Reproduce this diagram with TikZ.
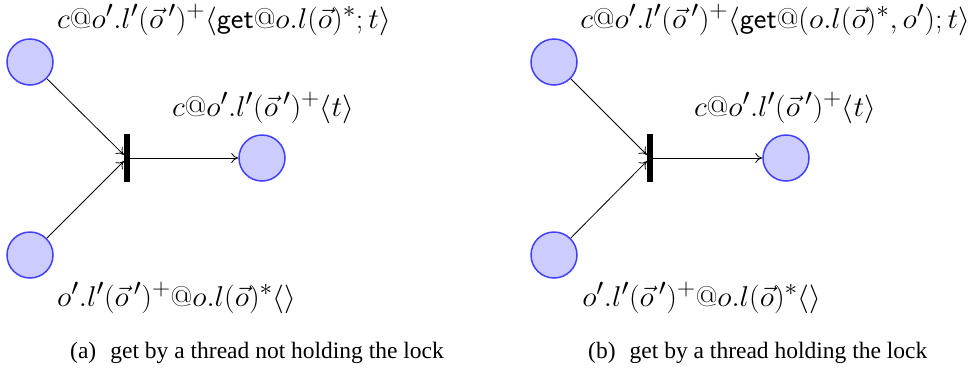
\documentclass[tikz,border=0pt]{standalone}
\usepackage{fontspec}
\newfontfamily\capfont{Liberation Serif}
\usetikzlibrary{arrows.meta}
\definecolor{placefill}{rgb}{0.8,0.8,1}
\definecolor{placedraw}{rgb}{0.25,0.25,1}
\tikzset{
  place/.style={circle,draw=placedraw,fill=placefill,line width=1.5pt,minimum size=46pt,inner sep=0pt},
  trans/.style={rectangle,fill=black,minimum width=6pt,minimum height=48pt,inner sep=0pt},
  arc/.style={line width=0.8pt,-{To[length=7pt,width=10pt]}},
  lbl/.style={inner sep=0pt,font=\fontsize{24.88}{30}\selectfont,xscale=1.21,yscale=1.15,transform shape},
  captext/.style={inner sep=0pt,font=\fontsize{23.5}{28}\selectfont\capfont}
}
\begin{document}
\begin{tikzpicture}[x=1pt,y=-1pt]
\useasboundingbox (0,0) rectangle (979,370);
% panel (a)
\node[place] (a1) at (30,62) {};
\node[place] (a2) at (30,255) {};
\node[trans] (at) at (127,158) {};
\node[place] (a3) at (262,158) {};
\draw[arc] (a1) -- (at);
\draw[arc] (a2) -- (at);
\draw[arc] (at) -- (a3);
\node[lbl,anchor=base west] (la1) at (57,28) {$c@o'.l'(\vec{o}\,')^+\langle\mathsf{get}@o.l(\vec{o})^*;t\rangle$};
\node[lbl,anchor=base] (la3) at (263,116) {$c@o'.l'(\vec{o}\,')^+\langle t\rangle$};
\node[lbl,anchor=base west] (la2) at (57,306) {$o'.l'(\vec{o}\,')^+@o.l(\vec{o})^*\langle\rangle$};
\node[captext,anchor=base west] (capa) at (70,358) {(a)\hskip0.6em get by a thread not holding the lock};
% panel (b)
\node[place] (b1) at (554,62) {};
\node[place] (b2) at (554,255) {};
\node[trans] (bt) at (650,158) {};
\node[place] (b3) at (786,158) {};
\draw[arc] (b1) -- (bt);
\draw[arc] (b2) -- (bt);
\draw[arc] (bt) -- (b3);
\node[lbl,anchor=base west] (lb1) at (580,28) {$c@o'.l'(\vec{o}\,')^+\langle\mathsf{get}@(o.l(\vec{o})^*,o');t\rangle$};
\node[lbl,anchor=base] (lb3) at (785,116) {$c@o'.l'(\vec{o}\,')^+\langle t\rangle$};
\node[lbl,anchor=base west] (lb2) at (582,306) {$o'.l'(\vec{o}\,')^+@o.l(\vec{o})^*\langle\rangle$};
\node[captext,anchor=base west] (capb) at (588,358) {(b)\hskip0.6em get by a thread holding the lock};
\end{tikzpicture}
\end{document}
